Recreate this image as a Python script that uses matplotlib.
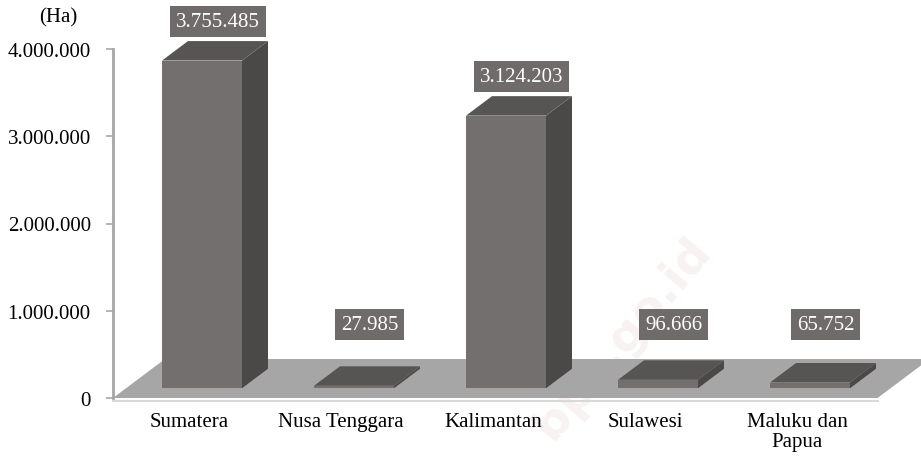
import matplotlib.pyplot as plt
from matplotlib.patches import Polygon
from matplotlib.ticker import FuncFormatter

plt.rcParams['font.family'] = 'serif'
plt.rcParams['font.serif'] = ['Liberation Serif', 'Times New Roman', 'DejaVu Serif']

regions = ['Sumatera', 'Nusa Tenggara', 'Kalimantan', 'Sulawesi', 'Maluku dan\nPapua']
area_ha = [3755485, 27985, 3124203, 96666, 65752]
yticks = [0, 1000000, 2000000, 3000000, 4000000]

W, H = 921, 460
fig = plt.figure(figsize=(W / 100, H / 100), dpi=100)
# axes origin at the front-left corner of the floor
ax = fig.add_axes([113 / W, 61 / H, (W - 113) / W, 349 / H])
ax.set_ylim(0, 4000000)
ax.set_xlim(-0.5, (W - 189) / 152)

# fake 3d depth, in data units (full floor depth)
DX = 52 / 152
DY = 39 / (349 / 4000000)
bw = 80 / 152

front_col = '#736f6e'
side_col = '#4b4848'
top_col = '#575454'

# watermark, faint and behind everything
ax.text(2.85, 700000, 'bps.go.id', rotation=50, ha='center', va='center',
        fontsize=34, fontweight='bold', color='#f8f2f2', family='DejaVu Sans',
        zorder=0.5, clip_on=False)

# floor
fx0, fx1 = -0.5, 4.53
floor = Polygon([(fx0, 0), (fx1, 0), (fx1 + DX, DY), (fx0 + DX, DY)],
                closed=True, facecolor='#a6a6a6', edgecolor='none',
                clip_on=False, zorder=1)
ax.add_patch(floor)
ax.plot([fx0, fx1], [-30000, -30000], color='#d9d9d9', lw=1.5,
        clip_on=False, zorder=0.9)

# bars
for i, v in enumerate(area_ha):
    b = DY * 0.25
    t = b + v
    xl = i + DX * 0.25 - bw / 2
    xr = xl + bw
    dx, dy = DX * 0.5, DY * 0.5
    ax.add_patch(Polygon([(xl, b), (xr, b), (xr, t), (xl, t)],
                         facecolor=front_col, edgecolor='none', clip_on=False, zorder=3))
    ax.add_patch(Polygon([(xr, b), (xr + dx, b + dy), (xr + dx, t + dy), (xr, t)],
                         facecolor=side_col, edgecolor='none', clip_on=False, zorder=3))
    ax.add_patch(Polygon([(xl, t), (xr, t), (xr + dx, t + dy), (xl + dx, t + dy)],
                         facecolor=top_col, edgecolor='none', clip_on=False, zorder=3))
    lbl = f'{v:,}'.replace(',', '.')
    ax.text(i + 0.19, max(v + 560000, 840000), lbl, ha='center', va='center',
            fontsize=15, color='white', zorder=5,
            bbox=dict(boxstyle='square,pad=0.28', facecolor='#6e6b6a', edgecolor='none'))

ax.set_yticks(yticks)
ax.yaxis.set_major_formatter(FuncFormatter(lambda v, p: f'{int(v):,}'.replace(',', '.')))
ax.set_xticks(range(len(regions)))
ax.set_xticklabels(regions, linespacing=1.05)
ax.tick_params(axis='y', length=5, width=1.2, color='#a6a6a6', pad=11, labelsize=15)
ax.tick_params(axis='x', length=0, pad=10, labelsize=15)
for s in ['top', 'right', 'bottom']:
    ax.spines[s].set_visible(False)
ax.spines['left'].set_color('#a6a6a6')
ax.spines['left'].set_linewidth(2)
ax.patch.set_alpha(0)

fig.text(58 / W, 1 - 18 / H, '(Ha)', ha='center', va='center', fontsize=15)

plt.savefig('out.png', dpi=100)
